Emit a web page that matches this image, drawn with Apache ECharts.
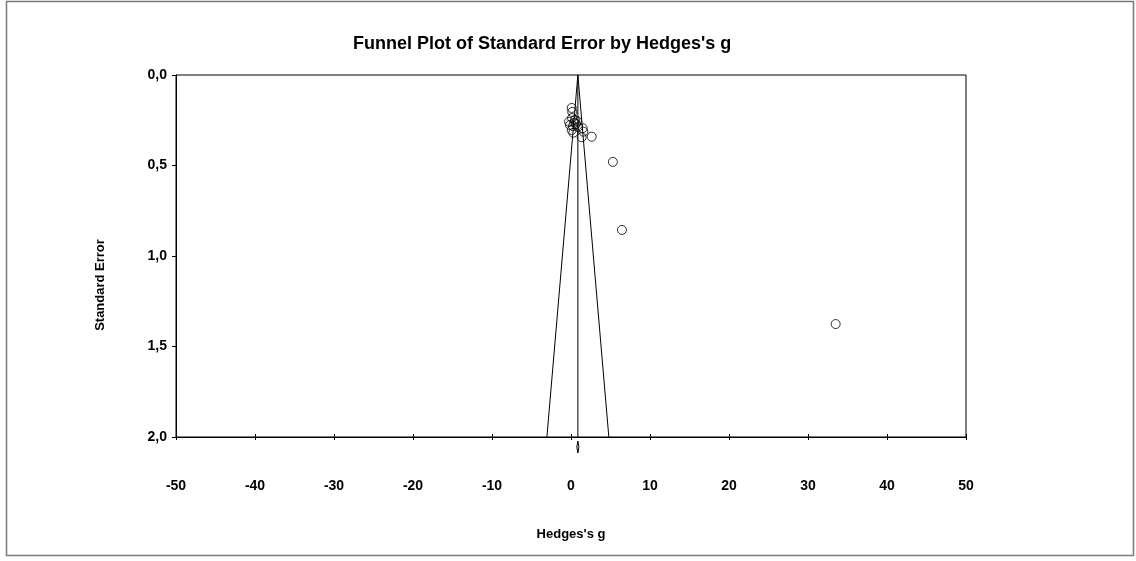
<!DOCTYPE html>
<html>
<head>
<meta charset="utf-8">
<script src="https://cdn.jsdelivr.net/npm/echarts@6/dist/echarts.min.js"></script>
<style>
  html, body { margin: 0; padding: 0; background: #fff; }
  #chart { width: 1136px; height: 561px; }
</style>
</head>
<body>
<div id="chart"></div>
<script>
// Study effect sizes (Hedges's g) and their standard errors
const hedgesG = [0.09, 0.16, 0.42, 0.50, 0.63, -0.25, -0.13, 0.09, 0.29, 0.89, 1.48, 1.56, 1.35, 2.62, 0.13, 0.76, 0.25, 5.30, 6.45, 33.5];
const stdErr  = [0.182, 0.204, 0.264, 0.249, 0.271, 0.258, 0.276, 0.304, 0.319, 0.287, 0.294, 0.313, 0.344, 0.341, 0.238, 0.254, 0.282, 0.480, 0.856, 1.376];

// Combined effect and its confidence interval
const pooledG = 0.87;
const pooledLow = 0.74;
const pooledHigh = 1.00;

// Axis ranges and ticks
const xMin = -50, xMax = 50, xStep = 10;
const yMin = 0, yMax = 2, yStep = 0.5;
const zCrit = 1.96;

const FONT = "'Liberation Sans', Arial, sans-serif";

const points = hedgesG.map((g, i) => [g, stdErr[i]]);
const funnel = [
  [pooledG - zCrit * yMax, yMax],
  [pooledG, yMin],
  [pooledG + zCrit * yMax, yMax]
];
const meanLine = [[pooledG, yMin], [pooledG, yMax]];

const GRID_TOP = 75, GRID_BOTTOM = 124, CHART_H = 561;
const plotHeight = CHART_H - GRID_TOP - GRID_BOTTOM;

const chart = echarts.init(document.getElementById('chart'), null, { renderer: 'canvas' });

chart.setOption({
  animation: false,
  backgroundColor: '#ffffff',
  title: {
    text: "Funnel Plot of Standard Error by Hedges's g",
    left: 348,
    top: 30,
    textStyle: { fontFamily: FONT, fontWeight: 'bold', fontSize: 18, color: '#000' }
  },
  graphic: [
    {
      type: 'rect',
      shape: { x: 6.5, y: 1.5, width: 1127, height: 554 },
      style: { fill: 'none', stroke: '#7a7a7a', lineWidth: 1.5 },
      silent: true
    },
    {
      type: 'text',
      x: 100,
      y: 285,
      rotation: Math.PI / 2,
      style: {
        text: 'Standard Error',
        fontFamily: FONT,
        fontWeight: 'bold',
        fontSize: 13,
        fill: '#000',
        align: 'center',
        verticalAlign: 'middle'
      }
    }
  ],
  grid: {
    left: 176,
    right: 170,
    top: GRID_TOP,
    bottom: GRID_BOTTOM,
    show: true,
    borderColor: '#000',
    borderWidth: 1,
    backgroundColor: 'transparent'
  },
  xAxis: [
    {
      type: 'value',
      min: xMin,
      max: xMax,
      interval: xStep,
      name: "Hedges's g",
      nameLocation: 'middle',
      nameGap: 91,
      nameTextStyle: { fontFamily: FONT, fontWeight: 'bold', fontSize: 13, color: '#000' },
      axisLine: { show: true, onZero: false, lineStyle: { color: '#000', width: 1 } },
      axisTick: { show: true, inside: false, length: 3, lineStyle: { color: '#000' } },
      axisLabel: { margin: 42, fontFamily: FONT, fontWeight: 'bold', fontSize: 14, color: '#000' },
      splitLine: { show: false }
    },
    {
      // Upper half of the crossing tick marks on the bottom axis
      type: 'value',
      position: 'top',
      offset: -plotHeight,
      min: xMin,
      max: xMax,
      interval: xStep,
      axisLine: { show: false },
      axisTick: { show: true, inside: false, length: 3, lineStyle: { color: '#000' } },
      axisLabel: { show: false },
      splitLine: { show: false }
    }
  ],
  yAxis: {
    type: 'value',
    inverse: true,
    min: yMin,
    max: yMax,
    interval: yStep,
    axisLine: { show: true, onZero: false, lineStyle: { color: '#000', width: 1 } },
    axisTick: { show: true, inside: false, length: 4, lineStyle: { color: '#000' } },
    axisLabel: {
      margin: 9,
      fontFamily: FONT,
      fontWeight: 'bold',
      fontSize: 14,
      color: '#000',
      formatter: v => v.toFixed(1).replace('.', ',')
    },
    splitLine: { show: false }
  },
  series: [
    {
      type: 'line',
      data: funnel,
      symbol: 'none',
      lineStyle: { color: '#000', width: 1 },
      silent: true,
      z: 2
    },
    {
      type: 'line',
      data: meanLine,
      symbol: 'none',
      lineStyle: { color: '#000', width: 1 },
      silent: true,
      z: 2
    },
    {
      type: 'scatter',
      data: points,
      symbol: 'circle',
      symbolSize: 9,
      itemStyle: { color: 'rgba(255,255,255,0)', borderColor: '#000', borderWidth: 1 },
      z: 3
    },
    {
      // Summary diamond drawn just below the horizontal axis
      type: 'custom',
      clip: false,
      silent: true,
      data: [[pooledLow, pooledG, pooledHigh]],
      renderItem: function (params, api) {
        const lo = api.coord([api.value(0), yMax]);
        const mid = api.coord([api.value(1), yMax]);
        const hi = api.coord([api.value(2), yMax]);
        const top = mid[1] + 4;
        const bottom = mid[1] + 16;
        const cy = (top + bottom) / 2;
        return {
          type: 'polygon',
          shape: { points: [[mid[0], top], [hi[0], cy], [mid[0], bottom], [lo[0], cy]] },
          style: { fill: '#fff', stroke: '#000', lineWidth: 1 }
        };
      }
    }
  ]
});
</script>
</body>
</html>
